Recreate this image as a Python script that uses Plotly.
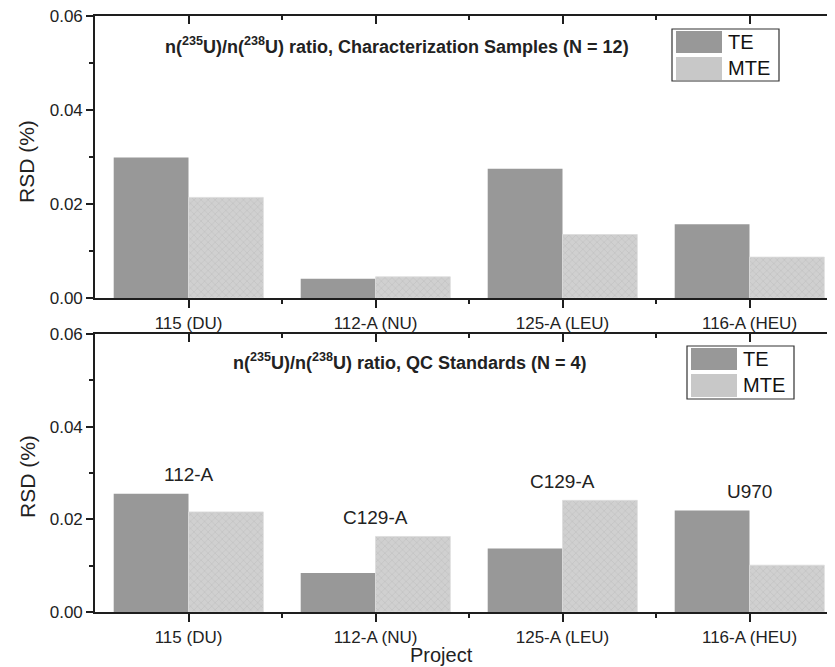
import plotly.graph_objects as go

# ---------------- data ----------------
categories = ["115 (DU)", "112-A (NU)", "125-A (LEU)", "116-A (HEU)"]
char_te = [0.0299, 0.0041, 0.0275, 0.0157]
char_mte = [0.0214, 0.0045, 0.0135, 0.0087]
qc_te = [0.0255, 0.0084, 0.0137, 0.0219]
qc_mte = [0.0216, 0.0163, 0.0241, 0.0101]
qc_labels = ["112-A", "C129-A", "C129-A", "U970"]
y_ticks = [0.00, 0.02, 0.04, 0.06]
y_minor = [0.01, 0.03, 0.05]
series_names = ["TE", "MTE"]
titles = [
    "<b>n(<sup>235</sup>U)/n(<sup>238</sup>U) ratio, Characterization Samples (N = 12)</b>",
    "<b>n(<sup>235</sup>U)/n(<sup>238</sup>U) ratio, QC Standards (N = 4)</b>",
]

PAGE_W, PAGE_H = 835, 667
OFF = 8  # default page body margin
W, H = PAGE_W - OFF, PAGE_H - OFF
FONT = "Liberation Sans, Arial, Helvetica, sans-serif"
TE_COLOR = "#989898"
MTE_BG = "#d0d0d0"
MTE_FG = "#b2b2b2"
AX = "#1e1e1e"

xs = list(range(len(categories)))
minor_x = [i + 0.5 for i in xs[:-1]]


def px(x):
    return (x - OFF) / W


def py(y):
    return 1 - (y - OFF) / H


fig = go.Figure()

mte_marker = dict(
    color=MTE_BG,
    pattern=dict(shape="x", fgcolor=MTE_FG, bgcolor=MTE_BG, size=5, solidity=0.25),
    line=dict(width=0.8, color="#dcdcdc"),
)
te_marker = dict(color=TE_COLOR, line=dict(width=0))

for (te, mte, xa, ya) in [(char_te, char_mte, "x", "y"), (qc_te, qc_mte, "x2", "y2")]:
    fig.add_trace(go.Bar(x=xs, y=te, name=series_names[0], marker=te_marker,
                         xaxis=xa, yaxis=ya, showlegend=False))
    fig.add_trace(go.Bar(x=xs, y=mte, name=series_names[1], marker=mte_marker,
                         xaxis=xa, yaxis=ya, showlegend=False))

# empty helper traces so overlay axes are drawn
for xa, ya in [("x3", "y"), ("x", "y3"), ("x4", "y2"), ("x2", "y4")]:
    fig.add_trace(go.Scatter(x=[], y=[], xaxis=xa, yaxis=ya, showlegend=False, hoverinfo="skip"))

x_left = 95
plot_w = PAGE_W - x_left
xrange = [-0.5, -0.5 + plot_w / 187]
tickfont = dict(family=FONT, size=17, color="#222")

dom_top = [py(298), py(16)]
dom_bot = [py(612), py(334)]


def xaxis_main(anchor):
    return dict(
        domain=[px(x_left), 1], anchor=anchor, range=xrange,
        tickmode="array", tickvals=xs, ticktext=categories,
        ticks="outside", ticklen=8, tickwidth=1.5, tickcolor=AX,
        minor=dict(tickmode="array", tickvals=minor_x, ticks="outside", ticklen=4,
                   tickwidth=1.5, tickcolor=AX),
        showline=True, linewidth=2.2, linecolor=AX, showgrid=False, zeroline=False,
        tickfont=tickfont, automargin=False, fixedrange=True, ticklabeloverflow="allow",
    )


def xaxis_top(anchor, over):
    return dict(
        domain=[px(x_left), 1], anchor=anchor, overlaying=over, side="top", range=xrange,
        tickmode="array", tickvals=xs, ticks="inside", ticklen=8, tickwidth=1.5, tickcolor=AX,
        minor=dict(tickmode="array", tickvals=minor_x, ticks="inside", ticklen=4,
                   tickwidth=1.5, tickcolor=AX),
        showline=True, linewidth=2, linecolor=AX, showgrid=False, zeroline=False,
        showticklabels=False, automargin=False,
    )


def yaxis_main(dom, anchor):
    return dict(
        domain=dom, anchor=anchor, range=[0, 0.06],
        tickmode="array", tickvals=y_ticks, tickformat=".2f",
        ticks="outside", ticklen=7, tickwidth=1.5, tickcolor=AX,
        minor=dict(tickmode="array", tickvals=y_minor, ticks="outside", ticklen=4,
                   tickwidth=1.5, tickcolor=AX),
        showline=True, linewidth=1.6, linecolor=AX, showgrid=False, zeroline=False,
        tickfont=tickfont, automargin=False, fixedrange=True, ticklabeloverflow="allow",
    )


def yaxis_right(dom, anchor, over):
    return dict(
        domain=dom, anchor=anchor, overlaying=over, side="right", range=[0, 0.06],
        tickmode="array", tickvals=[0.02, 0.04], ticks="inside", ticklen=3,
        tickwidth=1.5, tickcolor=AX, showline=False, showgrid=False, zeroline=False,
        showticklabels=False, automargin=False,
    )


fig.update_layout(
    width=W, height=H,
    margin=dict(l=0, r=0, t=0, b=0),
    paper_bgcolor="white", plot_bgcolor="white",
    barmode="group", bargap=0.2, bargroupgap=0,
    showlegend=False,
    xaxis=xaxis_main("y"),
    yaxis=yaxis_main(dom_top, "x"),
    xaxis2=xaxis_main("y2"),
    yaxis2=yaxis_main(dom_bot, "x2"),
    xaxis3=xaxis_top("y", "x"),
    yaxis3=yaxis_right(dom_top, "x", "y"),
    xaxis4=xaxis_top("y2", "x2"),
    yaxis4=yaxis_right(dom_bot, "x2", "y2"),
)

annotations = []
# panel titles
annotations.append(dict(text=titles[0], x=px(397), y=py(45), xref="paper", yref="paper",
                        showarrow=False, font=dict(family=FONT, size=18, color="#222"),
                        xanchor="center", yanchor="middle"))
annotations.append(dict(text=titles[1], x=px(410), y=py(361), xref="paper", yref="paper",
                        showarrow=False, font=dict(family=FONT, size=18, color="#222"),
                        xanchor="center", yanchor="middle"))
# y axis titles
for yc in (162, 477):
    annotations.append(dict(text="RSD (%)", x=px(27), y=py(yc), xref="paper", yref="paper",
                            showarrow=False, textangle=-90,
                            font=dict(family=FONT, size=21, color="#222"),
                            xanchor="center", yanchor="middle"))
# x axis title
annotations.append(dict(text="Project", x=px(442), y=py(655), xref="paper", yref="paper",
                        showarrow=False, font=dict(family=FONT, size=20, color="#222"),
                        xanchor="center", yanchor="middle"))
# QC labels above bars
for i, lab in enumerate(qc_labels):
    annotations.append(dict(text=lab, x=xs[i], y=max(qc_te[i], qc_mte[i]) + 0.0014,
                            xref="x2", yref="y2", showarrow=False,
                            font=dict(family=FONT, size=19, color="#222"),
                            xanchor="center", yanchor="bottom"))

# custom legends (box + swatches + text)
shapes = []
for (bx0, by0, bx1, by1) in [(672, 29, 779, 81), (687, 346, 794, 399)]:
    shapes.append(dict(type="rect", xref="paper", yref="paper",
                       x0=px(bx0), x1=px(bx1), y0=py(by1), y1=py(by0),
                       line=dict(color="#333", width=1.2), fillcolor="white"))
    sx0, sx1 = bx0 + 4, bx0 + 50
    shapes.append(dict(type="rect", xref="paper", yref="paper",
                       x0=px(sx0), x1=px(sx1), y0=py(by0 + 24), y1=py(by0 + 2),
                       line=dict(width=0), fillcolor=TE_COLOR))
    shapes.append(dict(type="rect", xref="paper", yref="paper",
                       x0=px(sx0), x1=px(sx1), y0=py(by0 + 51), y1=py(by0 + 28),
                       line=dict(width=0), fillcolor="#c8c8c8"))
    annotations.append(dict(text=series_names[0], x=px(sx1 + 4), y=py(by0 + 13),
                            xref="paper", yref="paper", showarrow=False,
                            font=dict(family=FONT, size=20, color="#111"),
                            xanchor="left", yanchor="middle"))
    annotations.append(dict(text=series_names[1], x=px(sx1 + 4), y=py(by0 + 39),
                            xref="paper", yref="paper", showarrow=False,
                            font=dict(family=FONT, size=20, color="#111"),
                            xanchor="left", yanchor="middle"))

fig.update_layout(annotations=annotations, shapes=shapes)

fig.write_html("out.html")
